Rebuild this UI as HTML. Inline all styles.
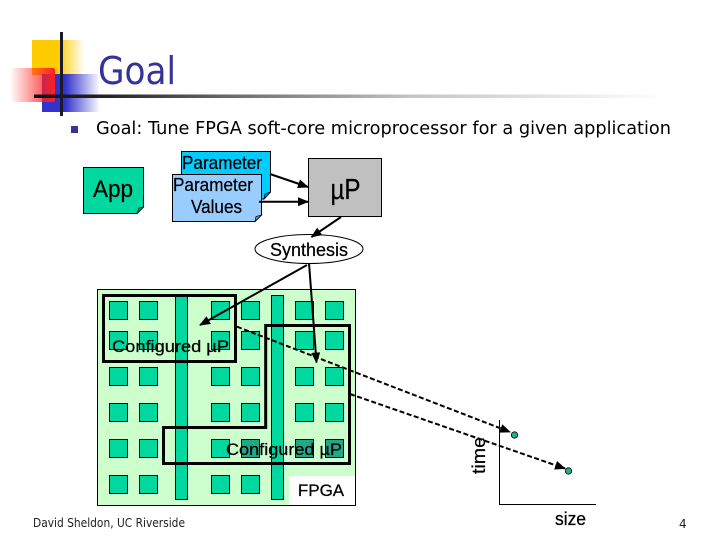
<!DOCTYPE html>
<html>
<head>
<meta charset="utf-8">
<style>
html,body{margin:0;padding:0;background:#fff;width:720px;height:540px;overflow:hidden}
svg{display:block}
text{fill:#000;font-family:"DejaVu Sans","Liberation Sans",sans-serif}
.a{font-family:"Liberation Sans",sans-serif;stroke:#000;stroke-width:.25}
</style>
</head>
<body>
<svg width="720" height="540" viewBox="0 0 720 540" xmlns="http://www.w3.org/2000/svg">
<defs>
<linearGradient id="gy" x1="0" x2="1" y1="0" y2="0"><stop offset="0" stop-color="#ffcc00"/><stop offset=".5" stop-color="#ffcc00"/><stop offset="1" stop-color="#ffcc00" stop-opacity="0"/></linearGradient>
<linearGradient id="gb" x1="0" x2="1" y1="0" y2="0"><stop offset="0" stop-color="#3333cc"/><stop offset=".4" stop-color="#3333cc"/><stop offset="1" stop-color="#3333cc" stop-opacity="0"/></linearGradient>
<linearGradient id="gr" x1="0" x2="1" y1="0" y2="0"><stop offset="0" stop-color="#ff2020" stop-opacity="0"/><stop offset="1" stop-color="#ff2020"/></linearGradient>
<linearGradient id="gl" x1="0" x2="1" y1="0" y2="0"><stop offset="0" stop-color="#111"/><stop offset=".1" stop-color="#222"/><stop offset=".32" stop-color="#777"/><stop offset=".55" stop-color="#c4c4c4"/><stop offset=".92" stop-color="#fff"/></linearGradient>
<marker id="ah" markerWidth="11" markerHeight="9" refX="10" refY="4.500" orient="auto" markerUnits="userSpaceOnUse"><path d="M0,0 L11,4.500 L0,9 Z" fill="#000"/></marker>
</defs>

<!-- logo -->
<rect x="32" y="40" width="52" height="35" fill="url(#gy)"/>
<rect x="42" y="74" width="58" height="38" fill="url(#gb)"/>
<rect x="10" y="68" width="45" height="34" rx="2" fill="url(#gr)"/>
<rect x="34" y="94.500" width="686" height="3.500" fill="url(#gl)"/>
<rect x="60" y="32" width="3" height="84" fill="#1a1a2a"/>

<text x="98" y="84" font-size="38" style="fill:#333399" textLength="78" lengthAdjust="spacingAndGlyphs">Goal</text>

<rect x="71" y="126" width="7" height="7" fill="#333399"/>
<text x="96" y="134" font-size="18" textLength="575" lengthAdjust="spacingAndGlyphs">Goal: Tune FPGA soft-core microprocessor for a given application</text>

<!-- App -->
<path d="M83.500,167.500 H143.500 V207 L137,213.500 H83.500 Z" fill="#00d8a0" stroke="#000" stroke-width="1"/>
<path d="M137,213.500 L139,208 L143.500,207 Z" fill="#00a078" stroke="#000" stroke-width=".7"/>
<text class="a" x="113" y="197" font-size="24" text-anchor="middle" textLength="40" lengthAdjust="spacingAndGlyphs">App</text>

<!-- Parameter back -->
<path d="M181.500,151.500 H270.500 V192 L264,199 H181.500 Z" fill="#00ccff" stroke="#000" stroke-width="1"/>
<path d="M264,199 L265,194 L270.500,192 Z" fill="#0090b8" stroke="#000" stroke-width=".7"/>
<text class="a" x="222" y="169" font-size="18" text-anchor="middle" textLength="80" lengthAdjust="spacingAndGlyphs">Parameter</text>

<!-- Parameter front -->
<path d="M172.500,174.500 H261.500 V215 L255,221.500 H172.500 Z" fill="#99ccff" stroke="#000" stroke-width="1"/>
<path d="M255,221.500 L256,216.500 L261.500,215 Z" fill="#6f94b8" stroke="#000" stroke-width=".7"/>
<text class="a" x="213" y="191" font-size="18" text-anchor="middle" textLength="80" lengthAdjust="spacingAndGlyphs">Parameter</text>
<text class="a" x="216.500" y="213" font-size="18" text-anchor="middle" textLength="51" lengthAdjust="spacingAndGlyphs">Values</text>

<!-- uP -->
<rect x="308.500" y="158.500" width="73" height="58" fill="#c0c0c0" stroke="#000" stroke-width="1"/>
<text class="a" x="345.500" y="199" font-size="29" text-anchor="middle" textLength="30" lengthAdjust="spacingAndGlyphs">µP</text>

<!-- Synthesis -->
<ellipse cx="309" cy="249" rx="54" ry="14.500" fill="#fff" stroke="#000" stroke-width="1"/>
<text class="a" x="309" y="256" font-size="18" text-anchor="middle" textLength="78" lengthAdjust="spacingAndGlyphs">Synthesis</text>

<!-- FPGA -->
<rect x="97.500" y="289.500" width="258" height="216" fill="#ccffcc" stroke="#000" stroke-width="1"/>
<rect x="289" y="476" width="66" height="29" fill="#fff"/>
<path d="M355.500,476 V505.500 H289" fill="none" stroke="#000" stroke-width="1"/>

<g fill="#00d8a0" stroke="#000" stroke-width="1">
<rect x="175.500" y="295.500" width="12" height="204"/>
<rect x="271.500" y="295.500" width="12" height="204"/>
<rect x="109.500" y="301.500" width="18" height="18"/><rect x="139.500" y="301.500" width="18" height="18"/><rect x="211.500" y="301.500" width="18" height="18"/><rect x="241.500" y="301.500" width="18" height="18"/><rect x="295.500" y="301.500" width="18" height="18"/><rect x="325.500" y="301.500" width="18" height="18"/>
<rect x="109.500" y="331.500" width="18" height="18"/><rect x="139.500" y="331.500" width="18" height="18"/><rect x="211.500" y="331.500" width="18" height="18"/><rect x="241.500" y="331.500" width="18" height="18"/><rect x="295.500" y="331.500" width="18" height="18"/><rect x="325.500" y="331.500" width="18" height="18"/>
<rect x="109.500" y="367.500" width="18" height="18"/><rect x="139.500" y="367.500" width="18" height="18"/><rect x="211.500" y="367.500" width="18" height="18"/><rect x="241.500" y="367.500" width="18" height="18"/><rect x="295.500" y="367.500" width="18" height="18"/><rect x="325.500" y="367.500" width="18" height="18"/>
<rect x="109.500" y="403.500" width="18" height="18"/><rect x="139.500" y="403.500" width="18" height="18"/><rect x="211.500" y="403.500" width="18" height="18"/><rect x="241.500" y="403.500" width="18" height="18"/><rect x="295.500" y="403.500" width="18" height="18"/><rect x="325.500" y="403.500" width="18" height="18"/>
<rect x="109.500" y="439.500" width="18" height="18"/><rect x="139.500" y="439.500" width="18" height="18"/><rect x="211.500" y="439.500" width="18" height="18"/><rect x="241.500" y="439.500" width="18" height="18" fill="#20a888"/><rect x="295.500" y="439.500" width="18" height="18" fill="#20a888"/><rect x="325.500" y="439.500" width="18" height="18" fill="#20a888"/>
<rect x="109.500" y="475.500" width="18" height="18"/><rect x="139.500" y="475.500" width="18" height="18"/><rect x="211.500" y="475.500" width="18" height="18"/><rect x="241.500" y="475.500" width="18" height="18"/>
</g>

<!-- black outlines -->
<rect x="103.500" y="295.500" width="132" height="66" fill="none" stroke="#000" stroke-width="3"/>
<path d="M265.700,325.500 H349.500 V463.500 H163.500 V427.500 H265.700 Z" fill="none" stroke="#000" stroke-width="3"/>

<text class="a" x="170.500" y="352" font-size="17" text-anchor="middle" textLength="117" lengthAdjust="spacingAndGlyphs">Configured µP</text>
<text class="a" x="284" y="455" font-size="17" text-anchor="middle" textLength="116" lengthAdjust="spacingAndGlyphs">Configured µP</text>
<text class="a" x="321" y="496" font-size="17" text-anchor="middle">FPGA</text>

<!-- arrows -->
<g fill="none" stroke="#000" stroke-width="2">
<line x1="270" y1="174" x2="308" y2="187" marker-end="url(#ah)"/>
<line x1="259" y1="201.700" x2="308" y2="201.700" marker-end="url(#ah)"/>
<line x1="341" y1="217" x2="311.500" y2="237" marker-end="url(#ah)"/>
<line x1="307" y1="265" x2="200" y2="325" marker-end="url(#ah)"/>
<line x1="309" y1="263" x2="316.500" y2="362.500" marker-end="url(#ah)"/>
<line x1="237" y1="326.700" x2="510" y2="432" stroke-dasharray="5 2.500" marker-end="url(#ah)"/>
<line x1="350" y1="394" x2="565" y2="468.500" stroke-dasharray="5 2.500" marker-end="url(#ah)"/>
</g>

<!-- chart -->
<path d="M499.500,420 V504.500 H596" fill="none" stroke="#000" stroke-width="1"/>
<circle cx="514.500" cy="435" r="3.200" fill="#20b090" stroke="#000" stroke-width=".8"/>
<circle cx="568.500" cy="471" r="3.200" fill="#20b090" stroke="#000" stroke-width=".8"/>
<text class="a" transform="translate(485,474) rotate(-90)" font-size="18" textLength="37" lengthAdjust="spacingAndGlyphs">time</text>
<text class="a" x="570.500" y="525" font-size="18" text-anchor="middle" textLength="31" lengthAdjust="spacingAndGlyphs">size</text>

<!-- footer -->
<text x="33" y="527" font-size="12" style="fill:#222" textLength="152" lengthAdjust="spacingAndGlyphs">David Sheldon, UC Riverside</text>
<text x="679" y="528" font-size="12" style="fill:#222">4</text>
</svg>
</body>
</html>
